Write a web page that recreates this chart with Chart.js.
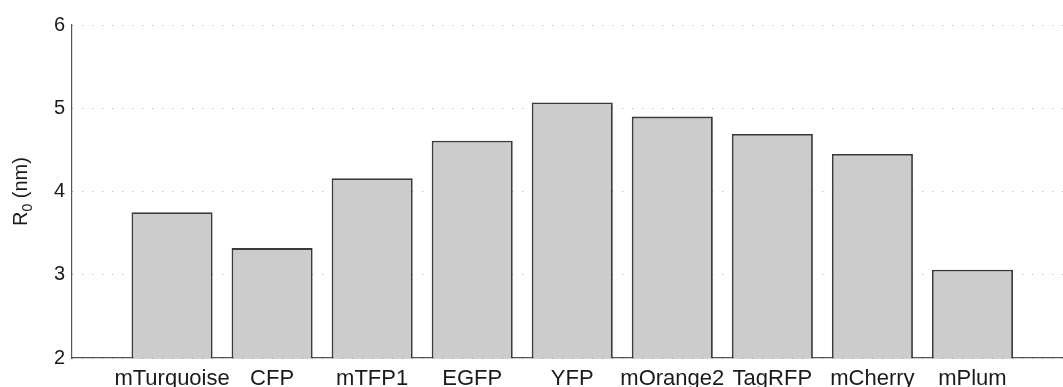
<!DOCTYPE html>
<html>
<head>
<meta charset="utf-8">
<script src="https://cdn.jsdelivr.net/npm/chart.js@4/dist/chart.umd.min.js"></script>
<style>
  html, body { margin: 0; padding: 0; background: #fff; overflow: hidden; }
</style>
</head>
<body>
<canvas id="r0Chart" width="1063" height="387"></canvas>
<script>
// Forster radius per fluorescent protein
var proteins = ['mTurquoise', 'CFP', 'mTFP1', 'EGFP', 'YFP', 'mOrange2', 'TagRFP', 'mCherry', 'mPlum'];
var r0Values = [3.75, 3.32, 4.16, 4.61, 5.07, 4.90, 4.69, 4.45, 3.06];
var yTicks = [2, 3, 4, 5, 6];

var FONT = '"Liberation Sans", Arial, Helvetica, sans-serif';

// y axis title with a real subscript: R0 (nm)
var yTitlePlugin = {
    id: 'yTitle',
    afterDraw: function (chart) {
        var ctx = chart.ctx;
        var area = chart.chartArea;
        var cy = (area.top + area.bottom) / 2;
        ctx.save();
        ctx.translate(26.5, cy);
        ctx.rotate(-Math.PI / 2);
        ctx.fillStyle = '#1a1a1a';
        ctx.textBaseline = 'alphabetic';
        ctx.textAlign = 'left';
        ctx.font = '20px ' + FONT;
        var wR = ctx.measureText('R').width;
        var wRest = ctx.measureText(' (nm)').width;
        ctx.font = '14px ' + FONT;
        var w0 = ctx.measureText('0').width;
        var x = -(wR + w0 + wRest) / 2;
        ctx.font = '20px ' + FONT;
        ctx.fillText('R', x, 0);
        x += wR;
        ctx.font = '14px ' + FONT;
        ctx.fillText('0', x, 5);
        x += w0;
        ctx.font = '20px ' + FONT;
        ctx.fillText(' (nm)', x, 0);
        ctx.restore();
    }
};

var ctx = document.getElementById('r0Chart').getContext('2d');
new Chart(ctx, {
    type: 'bar',
    data: {
        datasets: [{
            data: r0Values.map(function (v, i) { return { x: i + 1, y: v }; }),
            backgroundColor: '#cccccc',
            borderColor: '#3a3a3a',
            borderWidth: 1.8,
            borderSkipped: false,
            barPercentage: 0.81,
            categoryPercentage: 1.0
        }]
    },
    options: {
        responsive: false,
        animation: false,
        devicePixelRatio: 1,
        layout: { padding: { top: 25, left: 0, right: 0, bottom: 0 } },
        plugins: {
            legend: { display: false },
            tooltip: { enabled: false }
        },
        scales: {
            x: {
                type: 'linear',
                min: 0,
                max: 9.905,
                offset: false,
                grid: { display: false, drawTicks: false, offset: false },
                border: { display: true, color: '#555555', width: 1.2 },
                afterBuildTicks: function (axis) {
                    axis.ticks = proteins.map(function (p, i) { return { value: i + 1 }; });
                },
                afterFit: function (axis) { axis.height = 29; },
                ticks: {
                    autoSkip: false,
                    maxRotation: 0,
                    padding: 8,
                    color: '#1a1a1a',
                    font: { family: FONT, size: 22 },
                    callback: function (value, index) { return proteins[index]; }
                }
            },
            y: {
                min: 2,
                max: 6,
                afterBuildTicks: function (axis) {
                    axis.ticks = yTicks.map(function (v) { return { value: v }; });
                },
                afterFit: function (axis) { axis.width = 72; },
                grid: { color: '#b0b0b0', lineWidth: 1, drawTicks: false },
                border: { display: true, color: '#555555', width: 1.2, dash: [1, 9] },
                ticks: {
                    padding: 7,
                    color: '#1a1a1a',
                    font: { family: FONT, size: 20 }
                }
            }
        }
    },
    plugins: [yTitlePlugin]
});
</script>
</body>
</html>
